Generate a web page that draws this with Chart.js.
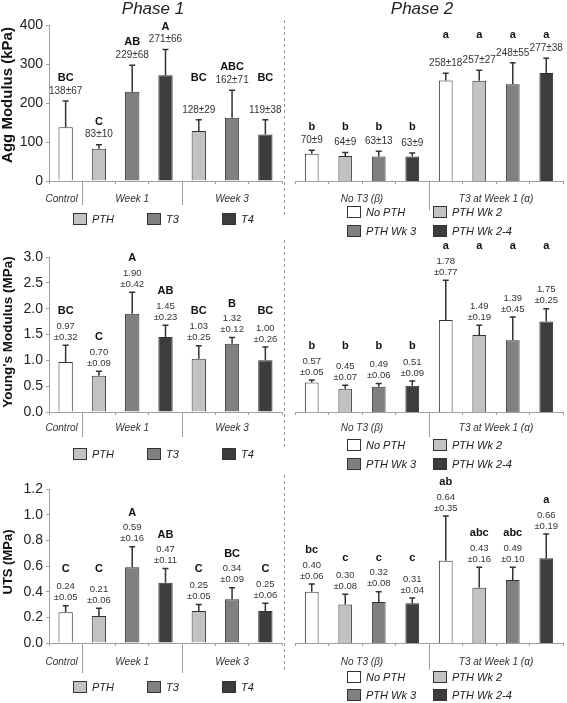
<!DOCTYPE html>
<html>
<head>
<meta charset="utf-8">
<script src="https://cdn.jsdelivr.net/npm/chart.js@4.4.0/dist/chart.umd.min.js"></script>
<style>
  body { margin: 0; background: #fff; }
  #wrap { position: relative; width: 567px; height: 703px; }
  canvas { position: absolute; }
</style>
</head>
<body>
<div id="wrap">
  <canvas id="aggL" width="283" height="246" style="left:0;top:0"></canvas>
  <canvas id="aggR" width="284" height="246" style="left:283px;top:0"></canvas>
  <canvas id="youngL" width="283" height="246" style="left:0;top:234px"></canvas>
  <canvas id="youngR" width="284" height="246" style="left:283px;top:234px"></canvas>
  <canvas id="utsL" width="283" height="235" style="left:0;top:468px"></canvas>
  <canvas id="utsR" width="284" height="235" style="left:283px;top:468px"></canvas>
</div>
<script>
// categories
const phase1Bars = ['Control', 'PTH', 'T3', 'T4', 'PTH', 'T3', 'T4'];
const phase1Groups = ['Control', 'Week 1', 'Week 3'];
const phase1GroupSizes = [1, 3, 3];
const phase2Bars = ['No PTH', 'PTH Wk 2', 'PTH Wk 3', 'PTH Wk 2-4', 'No PTH', 'PTH Wk 2', 'PTH Wk 3', 'PTH Wk 2-4'];
const phase2Groups = ['No T3 (\u03b2)', 'T3 at Week 1 (\u03b1)'];
const phase2GroupSizes = [4, 4];

// Aggregate modulus (kPa)
const aggP1Mean = [138, 83, 229, 271, 128, 162, 119];
const aggP1Sd = [67, 10, 68, 66, 29, 71, 38];
const aggP1Sig = ['BC', 'C', 'AB', 'A', 'BC', 'ABC', 'BC'];
const aggP2Mean = [70, 64, 63, 63, 258, 257, 248, 277];
const aggP2Sd = [9, 9, 13, 9, 18, 27, 55, 38];
const aggP2Sig = ['b', 'b', 'b', 'b', 'a', 'a', 'a', 'a'];
const aggTicks = [0, 100, 200, 300, 400];

// Young's modulus (MPa)
const youngP1Mean = [0.97, 0.70, 1.90, 1.45, 1.03, 1.32, 1.00];
const youngP1Sd = [0.32, 0.09, 0.42, 0.23, 0.25, 0.12, 0.26];
const youngP1Sig = ['BC', 'C', 'A', 'AB', 'BC', 'B', 'BC'];
const youngP2Mean = [0.57, 0.45, 0.49, 0.51, 1.78, 1.49, 1.39, 1.75];
const youngP2Sd = [0.05, 0.07, 0.06, 0.09, 0.77, 0.19, 0.45, 0.25];
const youngP2Sig = ['b', 'b', 'b', 'b', 'a', 'a', 'a', 'a'];
const youngTicks = [0, 0.5, 1.0, 1.5, 2.0, 2.5, 3.0];

// UTS (MPa)
const utsP1Mean = [0.24, 0.21, 0.59, 0.47, 0.25, 0.34, 0.25];
const utsP1Sd = [0.05, 0.06, 0.16, 0.11, 0.05, 0.09, 0.06];
const utsP1Sig = ['C', 'C', 'A', 'AB', 'C', 'BC', 'C'];
const utsP2Mean = [0.40, 0.30, 0.32, 0.31, 0.64, 0.43, 0.49, 0.66];
const utsP2Sd = [0.06, 0.08, 0.08, 0.04, 0.35, 0.16, 0.10, 0.19];
const utsP2Sig = ['bc', 'c', 'c', 'c', 'ab', 'abc', 'abc', 'a'];
const utsTicks = [0, 0.2, 0.4, 0.6, 0.8, 1.0, 1.2];

const phase1Legend = ['PTH', 'T3', 'T4'];
const phase2Legend = ['No PTH', 'PTH Wk 2', 'PTH Wk 3', 'PTH Wk 2-4'];

const FONT = '"Liberation Sans", Arial, sans-serif';
const AXIS = '#a0a0a0';
const WHITE = '#ffffff', LIGHT = '#c2c2c2', MID = '#808080', DARK = '#3d3d3d';
const phase1Colors = [WHITE, LIGHT, MID, DARK, LIGHT, MID, DARK];
const phase2Colors = [WHITE, LIGHT, MID, DARK, WHITE, LIGHT, MID, DARK];

function annotator(o) {
  return {
    id: 'annotate',
    afterDraw(chart) {
      const ctx = chart.ctx;
      const ys = chart.scales.y, xs = chart.scales.x;
      const area = chart.chartArea;
      const bars = chart.getDatasetMeta(0).data;
      ctx.save();

      // error bars (upper only)
      ctx.strokeStyle = '#333';
      ctx.lineWidth = 1.5;
      const tops = bars.map((bar, i) => {
        const top = ys.getPixelForValue(o.mean[i] + o.sd[i]);
        ctx.beginPath();
        ctx.moveTo(bar.x, bar.y);
        ctx.lineTo(bar.x, top);
        ctx.moveTo(bar.x - 3, top);
        ctx.lineTo(bar.x + 3, top);
        ctx.stroke();
        return top;
      });

      // mean±sd text and significance letters
      const letterY = [];
      ctx.textAlign = 'center';
      ctx.textBaseline = 'middle';
      ctx.fillStyle = '#333';
      ctx.font = (o.dec === 0 ? '10px ' : '9.5px ') + FONT;
      bars.forEach((bar, i) => {
        if (o.dec === 0) {
          const y = tops[i] - 10;
          ctx.fillText(o.mean[i] + '\u00b1' + o.sd[i], bar.x, y);
          letterY.push(y - 13);
        } else {
          const y2 = tops[i] - 8, y1 = y2 - 11;
          ctx.fillText(o.mean[i].toFixed(2), bar.x, y1);
          ctx.fillText('\u00b1' + o.sd[i].toFixed(2), bar.x, y2);
          letterY.push(y1 - 15);
        }
      });
      ctx.font = 'bold 11px ' + FONT;
      ctx.fillStyle = '#111';
      bars.forEach((bar, i) => {
        let y = letterY[i];
        o.sig.forEach((s, j) => { if (s === o.sig[i]) y = Math.min(y, letterY[j]); });
        ctx.fillText(o.sig[i], bar.x, y);
      });

      // group labels and dividers
      const half = (xs.getPixelForValue(1) - xs.getPixelForValue(0)) / 2;
      ctx.font = 'italic 10px ' + FONT;
      ctx.fillStyle = '#333';
      ctx.strokeStyle = AXIS;
      ctx.lineWidth = 1;
      let start = 0;
      o.groupSizes.forEach((n, g) => {
        const x0 = xs.getPixelForValue(start) - half;
        const x1 = xs.getPixelForValue(start + n - 1) + half;
        const shift = n === 1 ? -4 : 0;
        ctx.fillText(o.groups[g], (x0 + x1) / 2 + shift, area.bottom + o.catOff);
        if (start > 0) {
          ctx.beginPath();
          ctx.moveTo(Math.round(x0) + 0.5, area.bottom);
          ctx.lineTo(Math.round(x0) + 0.5, area.bottom + o.divLen);
          ctx.stroke();
        }
        start += n;
      });

      // legend
      ctx.textAlign = 'left';
      ctx.font = 'italic 11px ' + FONT;
      o.legend.forEach((lab, k) => {
        const col = k % o.legCols.length, row = Math.floor(k / o.legCols.length);
        const x = o.legCols[col], y = area.bottom + o.legRows[row];
        ctx.fillStyle = o.legColors[k];
        ctx.fillRect(x, y - 6, 14, 12);
        ctx.strokeStyle = '#333';
        ctx.strokeRect(x + 0.5, y - 5.5, 13, 11);
        ctx.fillStyle = '#222';
        ctx.fillText(lab, x + 19, y + 0.5);
      });

      // dashed separator between phases
      if (o.dash) {
        ctx.strokeStyle = '#999';
        ctx.lineWidth = 1;
        ctx.setLineDash([3, 3]);
        ctx.beginPath();
        ctx.moveTo(1.5, o.dash[0]);
        ctx.lineTo(1.5, o.dash[1]);
        ctx.stroke();
        ctx.setLineDash([]);
      }

      // y axis title
      if (o.yTitle) {
        ctx.save();
        ctx.translate(8, o.titleY);
        ctx.rotate(-Math.PI / 2);
        ctx.textAlign = 'center';
        ctx.font = 'bold ' + o.titleSize + 'px ' + FONT;
        ctx.fillStyle = '#111';
        ctx.fillText(o.yTitle, 0, 0);
        ctx.restore();
      }

      // phase title
      if (o.phase) {
        ctx.textAlign = 'center';
        ctx.font = 'italic 17px ' + FONT;
        ctx.fillStyle = '#222';
        ctx.fillText(o.phase, o.phaseX, 9);
      }
      ctx.restore();
    }
  };
}

function makePanel(id, o) {
  const cv = document.getElementById(id);
  const W = cv.width, H = cv.height;
  const left = o.side === 'L';
  return new Chart(cv, {
    type: 'bar',
    data: {
      labels: o.labels,
      datasets: [{
        data: o.mean,
        backgroundColor: o.colors,
        borderColor: '#333',
        borderWidth: 1,
        barPercentage: left ? 0.43 : 0.41,
        categoryPercentage: 1
      }]
    },
    options: {
      responsive: false,
      animation: false,
      events: [],
      layout: {
        padding: { top: o.top, bottom: 0, left: left ? 0 : o.left, right: W - o.right }
      },
      plugins: {
        legend: { display: false },
        tooltip: { enabled: false }
      },
      scales: {
        x: {
          grid: { offset: true, drawOnChartArea: false, tickLength: 3, color: AXIS },
          border: { color: AXIS },
          ticks: { display: false },
          afterFit: s => { s.height = H - o.bottom; }
        },
        y: {
          display: left,
          min: o.ticks[0],
          max: o.ticks[o.ticks.length - 1],
          afterBuildTicks: s => { s.ticks = o.ticks.map(v => ({ value: v })); },
          ticks: {
            padding: 3,
            color: '#222',
            font: { family: FONT, size: 14 },
            callback: v => Number(v).toFixed(o.tickDec)
          },
          grid: { drawOnChartArea: false, tickLength: 3, color: AXIS },
          border: { color: AXIS },
          afterFit: s => { s.width = o.left; }
        }
      }
    },
    plugins: [annotator(o)]
  });
}

const rows = [
  { key: 'agg', top: 25, bottom: 181, catOff: 18, legL: 38, legR: [31, 50], divL: 24, divR: 29, dash: [20, 218],
    title: 'Agg Modulus (kPa)', titleSize: 15, titleY: 95, ticks: aggTicks, tickDec: 0, dec: 0,
    p1: [aggP1Mean, aggP1Sd, aggP1Sig], p2: [aggP2Mean, aggP2Sd, aggP2Sig] },
  { key: 'young', top: 23, bottom: 178, catOff: 16, legL: 42, legR: [33, 52], divL: 25, divR: 25, dash: [6, 216],
    title: "Young's Modulus (MPa)", titleSize: 13.5, titleY: 98, ticks: youngTicks, tickDec: 1, dec: 2,
    p1: [youngP1Mean, youngP1Sd, youngP1Sig], p2: [youngP2Mean, youngP2Sd, youngP2Sig] },
  { key: 'uts', top: 21, bottom: 175, catOff: 19, legL: 44, legR: [34, 52], divL: 30, divR: 27, dash: [7, 202],
    title: 'UTS (MPa)', titleSize: 13, titleY: 94, ticks: utsTicks, tickDec: 1, dec: 2,
    p1: [utsP1Mean, utsP1Sd, utsP1Sig], p2: [utsP2Mean, utsP2Sd, utsP2Sig] }
];

rows.forEach((r, idx) => {
  makePanel(r.key + 'L', {
    side: 'L', labels: phase1Bars, colors: phase1Colors,
    mean: r.p1[0], sd: r.p1[1], sig: r.p1[2],
    top: r.top, bottom: r.bottom, left: 49, right: 282,
    ticks: r.ticks, tickDec: r.tickDec, dec: r.dec,
    yTitle: r.title, titleSize: r.titleSize, titleY: r.titleY,
    groups: phase1Groups, groupSizes: phase1GroupSizes, catOff: r.catOff, divLen: r.divL,
    legend: phase1Legend, legColors: [LIGHT, MID, DARK], legCols: [73, 147, 222], legRows: [r.legL],
    phase: idx === 0 ? 'Phase 1' : null, phaseX: 153
  });
  makePanel(r.key + 'R', {
    side: 'R', labels: phase2Bars, colors: phase2Colors,
    mean: r.p2[0], sd: r.p2[1], sig: r.p2[2],
    top: r.top, bottom: r.bottom, left: 6, right: 280,
    ticks: r.ticks, tickDec: r.tickDec, dec: r.dec,
    groups: phase2Groups, groupSizes: phase2GroupSizes, catOff: r.catOff, divLen: r.divR,
    legend: phase2Legend, legColors: [WHITE, LIGHT, MID, DARK], legCols: [64, 150], legRows: r.legR,
    dash: r.dash,
    phase: idx === 0 ? 'Phase 2' : null, phaseX: 139
  });
});
</script>
</body>
</html>
